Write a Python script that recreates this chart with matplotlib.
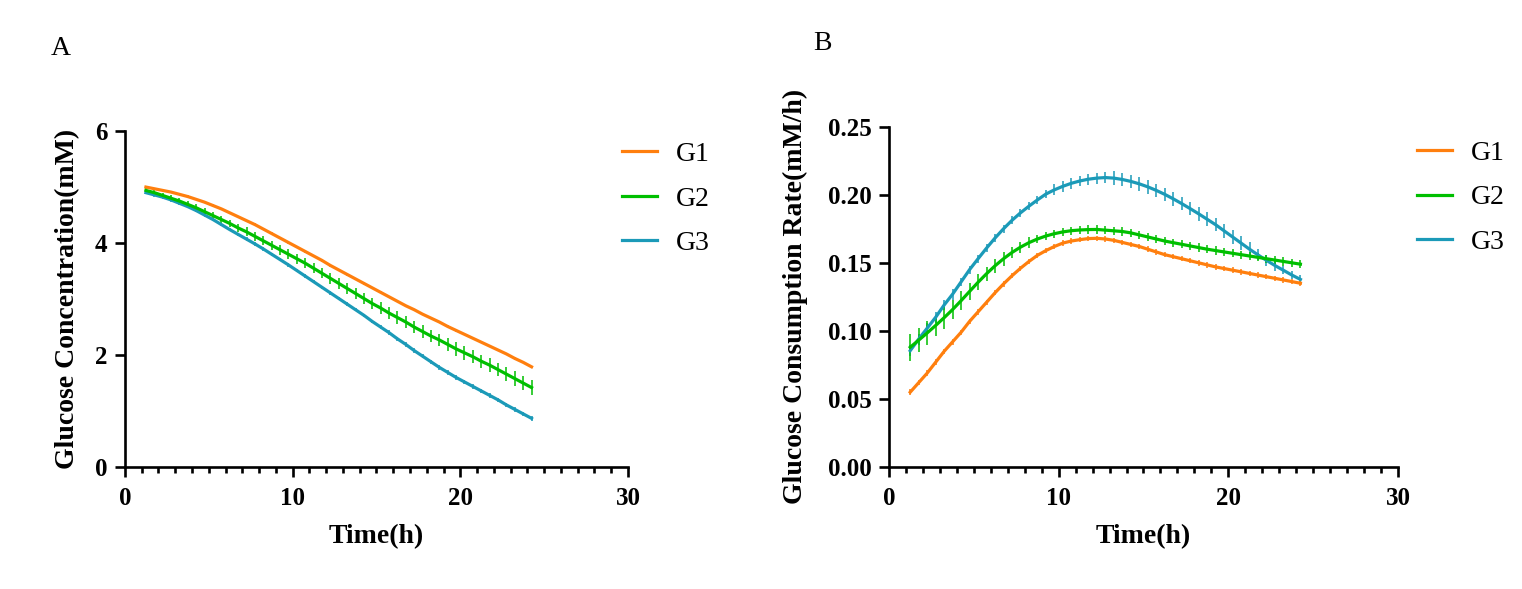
"""Glucose concentration / consumption rate curves for G1-G3 (panels A and B)."""

import matplotlib

matplotlib.use("Agg")

import matplotlib.pyplot as plt
from matplotlib.lines import Line2D
from matplotlib.ticker import MultipleLocator, FormatStrFormatter

plt.rcParams["font.family"] = ["Liberation Serif", "DejaVu Serif"]

groups = ["G1", "G2", "G3"]
colors = {"G1": "#FF7F0E", "G2": "#00BF00", "G3": "#1B9AB8"}

# sampling times (h)
time_h = [1.25, 1.75, 2.25, 2.75, 3.25, 3.75, 4.25, 4.75, 5.25, 5.75,
          6.25, 6.75, 7.25, 7.75, 8.25, 8.75, 9.25, 9.75, 10.25, 10.75,
          11.25, 11.75, 12.25, 12.75, 13.25, 13.75, 14.25, 14.75, 15.25, 15.75,
          16.25, 16.75, 17.25, 17.75, 18.25, 18.75, 19.25, 19.75, 20.25, 20.75,
          21.25, 21.75, 22.25, 22.75, 23.25, 23.75, 24.25]

# panel A: glucose concentration (mM)
conc = {
    "G1": [5.00, 4.97, 4.94, 4.91, 4.87, 4.83, 4.78, 4.73, 4.67, 4.61,
           4.54, 4.47, 4.40, 4.33, 4.25, 4.17, 4.09, 4.01, 3.93, 3.85,
           3.77, 3.69, 3.60, 3.52, 3.44, 3.36, 3.28, 3.20, 3.12, 3.04,
           2.96, 2.88, 2.81, 2.73, 2.66, 2.59, 2.51, 2.44, 2.37, 2.30,
           2.23, 2.16, 2.09, 2.02, 1.94, 1.87, 1.79],
    "G2": [4.94, 4.90, 4.85, 4.80, 4.75, 4.69, 4.63, 4.56, 4.49, 4.42,
           4.35, 4.27, 4.20, 4.12, 4.04, 3.96, 3.88, 3.80, 3.72, 3.64,
           3.55, 3.46, 3.37, 3.28, 3.19, 3.10, 3.01, 2.92, 2.84, 2.75,
           2.67, 2.59, 2.50, 2.42, 2.34, 2.27, 2.19, 2.11, 2.04, 1.97,
           1.89, 1.82, 1.74, 1.66, 1.58, 1.50, 1.42],
    "G3": [4.90, 4.86, 4.82, 4.77, 4.71, 4.65, 4.58, 4.50, 4.42, 4.33,
           4.24, 4.155, 4.07, 3.985, 3.895, 3.80, 3.705, 3.61, 3.51, 3.41,
           3.31, 3.21, 3.11, 3.01, 2.91, 2.81, 2.71, 2.60, 2.50, 2.40,
           2.29, 2.19, 2.08, 1.98, 1.88, 1.78, 1.69, 1.60, 1.52, 1.44,
           1.36, 1.28, 1.20, 1.11, 1.03, 0.95, 0.87],
}
conc_err = {
    "G1": [0.02, 0.02, 0.02, 0.02, 0.02, 0.02, 0.02, 0.02, 0.02, 0.02,
           0.02, 0.02, 0.02, 0.02, 0.02, 0.02, 0.02, 0.02, 0.02, 0.02,
           0.02, 0.02, 0.02, 0.02, 0.02, 0.02, 0.02, 0.02, 0.02, 0.02,
           0.02, 0.02, 0.02, 0.02, 0.02, 0.02, 0.02, 0.02, 0.02, 0.02,
           0.02, 0.02, 0.02, 0.02, 0.02, 0.02, 0.02],
    "G2": [0.05, 0.05, 0.05, 0.05, 0.06, 0.06, 0.06, 0.06, 0.07, 0.07,
           0.07, 0.07, 0.08, 0.08, 0.08, 0.08, 0.09, 0.09, 0.09, 0.09,
           0.09, 0.09, 0.10, 0.10, 0.10, 0.10, 0.10, 0.10, 0.10, 0.10,
           0.11, 0.11, 0.11, 0.11, 0.11, 0.11, 0.11, 0.12, 0.12, 0.12,
           0.12, 0.12, 0.12, 0.13, 0.13, 0.13, 0.13],
    "G3": [0.03, 0.03, 0.03, 0.03, 0.03, 0.03, 0.03, 0.03, 0.03, 0.03,
           0.03, 0.03, 0.03, 0.03, 0.03, 0.03, 0.03, 0.03, 0.03, 0.03,
           0.03, 0.03, 0.03, 0.03, 0.03, 0.03, 0.03, 0.03, 0.04, 0.04,
           0.04, 0.04, 0.04, 0.04, 0.04, 0.04, 0.04, 0.04, 0.04, 0.04,
           0.04, 0.04, 0.04, 0.04, 0.04, 0.04, 0.04],
}

# panel B: glucose consumption rate (mM/h)
rate = {
    "G1": [0.055, 0.062, 0.069, 0.077, 0.085, 0.092, 0.099, 0.107, 0.114, 0.121,
           0.128, 0.1345, 0.1405, 0.146, 0.151, 0.1555, 0.159, 0.162, 0.1645, 0.166,
           0.167, 0.1678, 0.168, 0.1675, 0.1665, 0.165, 0.1635, 0.162, 0.160, 0.158,
           0.156, 0.1545, 0.153, 0.1515, 0.150, 0.1485, 0.147, 0.1458, 0.1446, 0.1434,
           0.1422, 0.141, 0.1398, 0.1386, 0.1374, 0.1362, 0.135],
    "G2": [0.088, 0.0932, 0.0985, 0.104, 0.1097, 0.1157, 0.1222, 0.129, 0.1357, 0.142,
           0.1478, 0.153, 0.1576, 0.1615, 0.1648, 0.1675, 0.1697, 0.1714, 0.1727, 0.1736,
           0.1741, 0.1744, 0.1745, 0.174, 0.1735, 0.173, 0.172, 0.1705, 0.169, 0.1675,
           0.166, 0.1648, 0.1636, 0.1624, 0.1612, 0.160, 0.159, 0.158, 0.157, 0.156,
           0.155, 0.154, 0.153, 0.152, 0.151, 0.150, 0.149],
    "G3": [0.0855, 0.094, 0.102, 0.110, 0.119, 0.127, 0.136, 0.145, 0.153, 0.1608,
           0.1682, 0.175, 0.1812, 0.1867, 0.1916, 0.1962, 0.2005, 0.2036, 0.2062, 0.2084,
           0.2101, 0.2114, 0.2122, 0.2126, 0.2122, 0.2112, 0.2098, 0.208, 0.2058, 0.2032,
           0.2003, 0.197, 0.1935, 0.1898, 0.186, 0.182, 0.178, 0.1735, 0.169, 0.1645,
           0.160, 0.1558, 0.1518, 0.148, 0.1445, 0.141, 0.1378],
}
rate_err = {
    "G1": [0.002, 0.002, 0.002, 0.002, 0.002, 0.002, 0.002, 0.002, 0.002, 0.002,
           0.002, 0.002, 0.002, 0.002, 0.002, 0.002, 0.002, 0.002, 0.002, 0.002,
           0.002, 0.002, 0.002, 0.002, 0.002, 0.002, 0.002, 0.002, 0.002, 0.002,
           0.002, 0.002, 0.002, 0.002, 0.002, 0.002, 0.002, 0.002, 0.002, 0.002,
           0.002, 0.002, 0.002, 0.002, 0.002, 0.002, 0.002],
    "G2": [0.010, 0.009, 0.009, 0.008, 0.008, 0.007, 0.007, 0.006, 0.006, 0.005,
           0.005, 0.005, 0.004, 0.004, 0.004, 0.003, 0.003, 0.003, 0.003, 0.003,
           0.003, 0.003, 0.003, 0.003, 0.003, 0.003, 0.003, 0.003, 0.003, 0.003,
           0.003, 0.003, 0.003, 0.003, 0.003, 0.003, 0.003, 0.003, 0.003, 0.003,
           0.003, 0.003, 0.003, 0.003, 0.003, 0.003, 0.003],
    "G3": [0.004, 0.004, 0.004, 0.004, 0.004, 0.004, 0.003, 0.003, 0.003, 0.003,
           0.003, 0.003, 0.003, 0.003, 0.003, 0.003, 0.003, 0.004, 0.004, 0.004,
           0.004, 0.004, 0.004, 0.004, 0.005, 0.005, 0.005, 0.005, 0.005, 0.005,
           0.005, 0.005, 0.005, 0.005, 0.005, 0.005, 0.005, 0.005, 0.005, 0.005,
           0.005, 0.004, 0.004, 0.004, 0.003, 0.003, 0.003],
}

TICK_FS = 18
LABEL_FS = 20
LEGEND_FS = 20


def style_axis(ax, ylim, ystep, yfmt):
    for side in ("top", "right"):
        ax.spines[side].set_visible(False)
    for side in ("left", "bottom"):
        ax.spines[side].set_linewidth(1.9)
    ax.set_xlim(0, 30)
    ax.set_ylim(*ylim)
    ax.xaxis.set_major_locator(MultipleLocator(10))
    ax.xaxis.set_minor_locator(MultipleLocator(1))
    ax.yaxis.set_major_locator(MultipleLocator(ystep))
    ax.yaxis.set_major_formatter(FormatStrFormatter(yfmt))
    ax.tick_params(which="major", length=7.5, width=1.9, labelsize=TICK_FS, pad=5)
    ax.tick_params(axis="x", which="major", pad=7)
    ax.tick_params(axis="x", which="minor", length=4, width=1.9)
    for lab in ax.get_xticklabels() + ax.get_yticklabels():
        lab.set_fontweight("bold")


def draw_panel(ax, values, errors):
    # later groups sit underneath earlier ones
    for g in reversed(groups):
        ax.errorbar(time_h, values[g], yerr=errors[g], color=colors[g],
                    lw=2.3, elinewidth=1.1, capsize=0, ecolor=colors[g], zorder=3)


def add_legend(ax, anchor):
    handles = [Line2D([], [], color=colors[g], lw=2.3) for g in groups]
    ax.legend(handles, groups, loc="upper left", bbox_to_anchor=anchor,
              frameon=False, fontsize=LEGEND_FS, handlelength=1.25,
              handletextpad=0.7, labelspacing=0.69, borderpad=0, borderaxespad=0)


fig = plt.figure(figsize=(15.22, 5.89), dpi=100)
ax_a = fig.add_axes([0.0821, 0.2070, 0.3305, 0.5705])
ax_b = fig.add_axes([0.5841, 0.2070, 0.3344, 0.5780])

draw_panel(ax_a, conc, conc_err)
style_axis(ax_a, (0, 6), 2, "%d")
ax_a.set_xlabel("Time(h)", fontsize=LABEL_FS, fontweight="bold")
ax_a.set_ylabel("Glucose Concentration(mM)", fontsize=LABEL_FS, fontweight="bold")
ax_a.xaxis.set_label_coords(0.5, -0.17)
ax_a.yaxis.set_label_coords(-0.09, 0.5)
add_legend(ax_a, (0.988, 0.969))

draw_panel(ax_b, rate, rate_err)
style_axis(ax_b, (0, 0.25), 0.05, "%.2f")
ax_b.set_xlabel("Time(h)", fontsize=LABEL_FS, fontweight="bold")
ax_b.set_ylabel("Glucose Consumption Rate(mM/h)", fontsize=LABEL_FS, fontweight="bold")
ax_b.xaxis.set_label_coords(0.5, -0.167)
ax_b.yaxis.set_label_coords(-0.16, 0.5)
add_legend(ax_b, (1.037, 0.96))

fig.text(0.0335, 0.918, "A", fontsize=LABEL_FS, va="center", ha="left")
fig.text(0.534, 0.926, "B", fontsize=LABEL_FS, va="center", ha="left")

fig.savefig("out.png", dpi=100)
plt.close(fig)
